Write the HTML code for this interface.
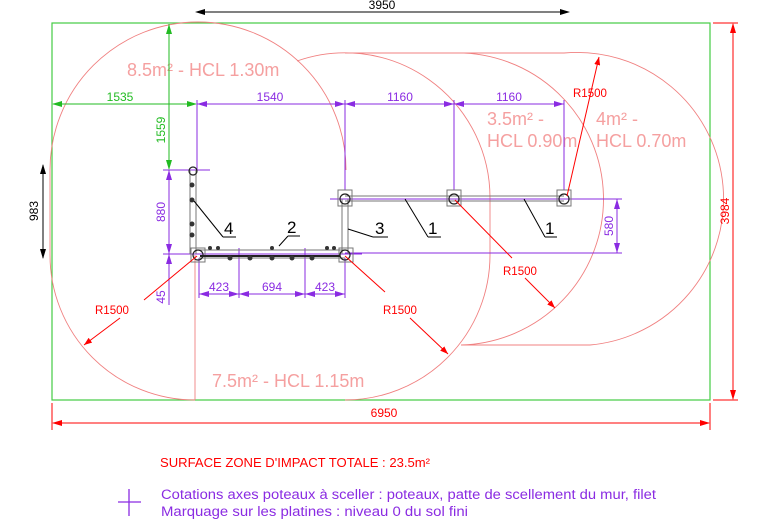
<!DOCTYPE html>
<html><head><meta charset="utf-8"><style>
html,body{margin:0;padding:0;background:#fff;width:760px;height:530px;overflow:hidden}
svg{display:block}
text{font-family:"Liberation Sans",sans-serif}
</style></head><body>
<svg width="760" height="530" viewBox="0 0 760 530" xmlns="http://www.w3.org/2000/svg">
<defs>
<marker id="ar" markerWidth="8" markerHeight="6" refX="8" refY="3" orient="auto" markerUnits="userSpaceOnUse"><path d="M0,0L8,3L0,6z" fill="#f00"/></marker>
</defs>

<rect x="52" y="23" width="658" height="377" fill="none" stroke="#44cc44" stroke-width="1.2"/>

<g fill="none" stroke="#f08080" stroke-width="0.9">
<path d="M50,170 A148,148 0 0 1 346,170"/>
<path d="M50,170 L50,255 A145,145 0 0 0 195,400"/>
<line x1="195" y1="255" x2="195" y2="400"/>
<path d="M297,61 A145,145 0 0 1 490,198 L490,255 A145,145 0 0 1 345,400"/>
<line x1="345" y1="53" x2="564" y2="53"/>
<path d="M454,53 A145,145 0 0 1 461,345"/>
<path d="M564,53 A145,145 0 0 1 590,345"/>
<line x1="461" y1="345" x2="590" y2="345"/>
</g>

<g fill="#f5a0a0" font-size="18">
<text x="127" y="76">8.5m² - HCL 1.30m</text>
<text x="487" y="125">3.5m² -</text>
<text x="487" y="147">HCL 0.90m</text>
<text x="596" y="125">4m² -</text>
<text x="596" y="147">HCL 0.70m</text>
<text x="212" y="387">7.5m² - HCL 1.15m</text>
</g>

<line x1="197" y1="12" x2="568" y2="12" stroke="#000"/>
<path d="M205,9L195,12L205,15z M560,9L570,12L560,15z" fill="#000"/>
<text x="382" y="9" font-size="12" fill="#000" text-anchor="middle">3950</text>
<line x1="43" y1="165" x2="43" y2="258" stroke="#000"/>
<path d="M40,174L43,164L46,174z M40,249L43,259L46,249z" fill="#000"/>
<text font-size="12" fill="#000" text-anchor="middle" transform="translate(38,211) rotate(-90)">983</text>

<g stroke="#f00" stroke-width="1">
<line x1="713" y1="23" x2="738" y2="23"/><line x1="713" y1="400" x2="738" y2="400"/>
<line x1="733" y1="24" x2="733" y2="399"/>
<line x1="52" y1="403" x2="52" y2="430"/><line x1="710" y1="403" x2="710" y2="430"/>
<line x1="53" y1="423" x2="709" y2="423"/>
</g>
<path d="M730,33L733,23L736,33z M730,390L733,400L736,390z M62,420L52,423L62,426z M700,420L710,423L700,426z" fill="#f00"/>
<text font-size="12" fill="#f00" text-anchor="middle" transform="translate(729,211) rotate(-90)">3984</text>
<text x="384" y="417" font-size="12" fill="#f00" text-anchor="middle">6950</text>

<g stroke="#22bb22"><line x1="53" y1="104" x2="196" y2="104"/><line x1="169" y1="24" x2="169" y2="169"/></g>
<path d="M62,101L52,104L62,107z M187,101L197,104L187,107z M166,34L169,24L172,34z M166,160L169,170L172,160z" fill="#22bb22"/>
<text x="120" y="101" font-size="12" fill="#22bb22" text-anchor="middle">1535</text>
<text font-size="12" fill="#22bb22" text-anchor="middle" transform="translate(165,130) rotate(-90)">1559</text>

<g stroke="#8a2be2" stroke-width="1">
<line x1="197" y1="104" x2="564" y2="104"/>
<line x1="197" y1="100" x2="197" y2="170"/>
<line x1="345" y1="100" x2="345" y2="190"/>
<line x1="454" y1="100" x2="454" y2="190"/>
<line x1="564" y1="100" x2="564" y2="190"/>
<line x1="163" y1="170" x2="210" y2="170"/>
<line x1="163" y1="254" x2="362" y2="254"/>
<line x1="330" y1="199" x2="622" y2="199"/>
<line x1="345" y1="253" x2="622" y2="253"/>
<line x1="617" y1="199" x2="617" y2="253"/>
<line x1="169" y1="170" x2="169" y2="305"/>
<line x1="199" y1="294" x2="345" y2="294"/>
<line x1="199" y1="258" x2="199" y2="298"/>
<line x1="239" y1="248" x2="239" y2="298"/>
<line x1="305" y1="248" x2="305" y2="298"/>
<line x1="345" y1="258" x2="345" y2="298"/>
</g>
<g fill="#8a2be2">
<path d="M207,101L197,104L207,107z M335,101L345,104L335,107z M355,101L345,104L355,107z M444,101L454,104L444,107z M464,101L454,104L464,107z M554,101L564,104L554,107z"/>
<path d="M614,209L617,199L620,209z M614,243L617,253L620,243z M166,180L169,170L172,180z M166,244L169,254L172,244z M166,264L169,254L172,264z"/>
<path d="M209,291L199,294L209,297z M229,291L239,294L229,297z M249,291L239,294L249,297z M295,291L305,294L295,297z M315,291L305,294L315,297z M335,291L345,294L335,297z"/>
</g>
<g font-size="12" fill="#8a2be2" text-anchor="middle">
<text x="270" y="101">1540</text><text x="400" y="101">1160</text><text x="509" y="101">1160</text>
<text x="219" y="291">423</text><text x="272" y="291">694</text><text x="325" y="291">423</text>
<text transform="translate(165,212) rotate(-90)">880</text>
<text transform="translate(165,297) rotate(-90)">45</text>
<text transform="translate(613,226) rotate(-90)">580</text>
</g>

<g stroke="#777" stroke-width="1" fill="none">
<line x1="190" y1="170" x2="190" y2="254"/><line x1="196" y1="170" x2="196" y2="254"/>
<line x1="199" y1="250" x2="345" y2="250"/><line x1="199" y1="258" x2="345" y2="258"/>
<line x1="342" y1="199" x2="342" y2="254"/><line x1="348" y1="199" x2="348" y2="254"/>
<line x1="345" y1="196" x2="564" y2="196"/><line x1="345" y1="201" x2="564" y2="201"/>
<rect x="191" y="248" width="14" height="14"/><rect x="339" y="248" width="14" height="14"/>
<rect x="338" y="190" width="14" height="16"/><rect x="447" y="190" width="14" height="16"/><rect x="557" y="190" width="14" height="16"/>
</g>
<g stroke="#222" stroke-width="1.2" fill="none">
<circle cx="198" cy="255" r="5"/><circle cx="345" cy="255" r="5"/><circle cx="345" cy="199" r="5"/><circle cx="454" cy="199" r="5"/><circle cx="564" cy="199" r="5"/><circle cx="193" cy="171" r="4"/>
<line x1="200" y1="256" x2="340" y2="256" stroke-width="2"/>
</g>
<g fill="#333">
<circle cx="192" cy="185" r="2.5"/><circle cx="192" cy="200" r="2.5"/><circle cx="192" cy="224" r="2.5"/><circle cx="192" cy="235" r="2.5"/>
<circle cx="210" cy="248" r="2"/><circle cx="218" cy="248" r="2"/><circle cx="272" cy="248" r="2"/><circle cx="327" cy="248" r="2"/><circle cx="334" cy="248" r="2"/>
<circle cx="230" cy="258" r="2.5"/><circle cx="250" cy="258" r="2.5"/><circle cx="272" cy="258" r="2.5"/><circle cx="292" cy="258" r="2.5"/><circle cx="312" cy="258" r="2.5"/>
</g>

<g stroke="#000" stroke-width="1">
<line x1="194" y1="201" x2="223" y2="237"/><line x1="223" y1="237" x2="236" y2="237"/>
<line x1="279" y1="246" x2="288" y2="236"/><line x1="288" y1="236" x2="300" y2="236"/>
<line x1="348" y1="229" x2="373" y2="237"/><line x1="373" y1="237" x2="388" y2="237"/>
<line x1="405" y1="199" x2="428" y2="237"/><line x1="428" y1="237" x2="441" y2="237"/>
<line x1="524" y1="199" x2="545" y2="237"/><line x1="545" y1="237" x2="557" y2="237"/>
</g>
<g font-size="17" fill="#000">
<text x="224" y="234">4</text><text x="287" y="233">2</text><text x="375" y="234">3</text><text x="428" y="234">1</text><text x="545" y="234">1</text>
</g>

<g stroke="#f00" stroke-width="1">
<line x1="197" y1="256" x2="144" y2="300"/><line x1="120" y1="318" x2="84" y2="345" marker-end="url(#ar)"/>
<line x1="345" y1="256" x2="385" y2="292"/><line x1="410" y1="318" x2="448" y2="354" marker-end="url(#ar)"/>
<line x1="455" y1="200" x2="512" y2="258"/><line x1="525" y1="278" x2="555" y2="308" marker-end="url(#ar)"/>
<line x1="567" y1="196" x2="599" y2="57" marker-end="url(#ar)"/>
</g>
<g font-size="11.5" fill="#f00">
<text x="95" y="314">R1500</text><text x="383" y="314">R1500</text><text x="503" y="275">R1500</text><text x="573" y="97">R1500</text>
</g>

<text x="160" y="467" font-size="13" fill="#f00" textLength="270" lengthAdjust="spacingAndGlyphs">SURFACE ZONE D'IMPACT TOTALE : 23.5m²</text>
<g stroke="#8a2be2" stroke-width="1.3"><line x1="118" y1="502" x2="141" y2="502"/><line x1="129" y1="489" x2="129" y2="516"/></g>
<text x="161" y="499" font-size="13.5" fill="#8a2be2" textLength="495" lengthAdjust="spacingAndGlyphs">Cotations axes poteaux à sceller : poteaux, patte de scellement du mur, filet</text>
<text x="161" y="516" font-size="13.5" fill="#8a2be2" textLength="307" lengthAdjust="spacingAndGlyphs">Marquage sur les platines : niveau 0 du sol fini</text>
</svg>
</body></html>
